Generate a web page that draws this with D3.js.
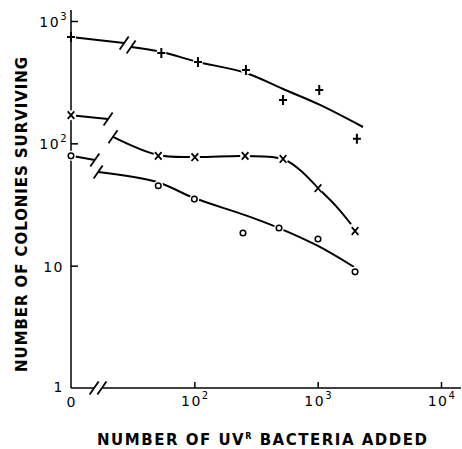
<!DOCTYPE html>
<html>
<head>
<meta charset="utf-8">
<script src="https://cdn.jsdelivr.net/npm/d3@7"></script>
<style>
body { margin: 0; background: #fff; }
text { font-family: "DejaVu Sans", sans-serif; fill: #000; }
</style>
</head>
<body>
<div id="canvas"></div>
<script>
// marker readings (x = 0 is the control, drawn at the axis)
const plusX = [0, 54, 107, 262, 524, 1030, 2080];
const plusY = [740, 548, 463, 398, 226, 273, 109];
const crossX = [0, 51, 101, 258, 524, 1006, 2010];
const crossY = [170, 79, 77, 79, 74.5, 43, 19.2];
const circleX = [0, 51, 100, 248, 486, 1006, 2010];
const circleY = [79, 45, 35, 18.5, 20.3, 16.5, 8.9];

// hand drawn curves, two pieces each side of the break
const plusCurveA = [[0, 740], [27, 660]];
const plusCurveB = [[30.7, 613], [54, 558], [107, 463], [262, 376], [524, 278], [1045, 206], [2330, 136]];
const crossCurveA = [[0, 170], [20, 158]];
const crossCurveB = [[21.9, 113], [50.7, 80.3], [101, 77.3], [258, 78.8], [524, 74.5], [719, 60.5], [1006, 43.2], [1409, 30.7], [1862, 21.9]];
const circleCurveA = [[0, 79], [15.6, 73]];
const circleCurveB = [[16.6, 58.3], [49.8, 48.3], [99.5, 35.7], [258, 25.9], [486, 20.3], [1006, 14.5], [1973, 9.75]];

const xTicks = [100, 1000, 10000];
const yTicks = [10, 100, 1000];
const xBreak = [15.4, 17.8];

const width = 462, height = 449;

const svg = d3.select("#canvas")
    .append("svg")
    .attr("width", width)
    .attr("height", height);

const x = d3.scaleLog().domain([10, 10000]).range([71, 441]);
const y = d3.scaleLog().domain([1, 1000]).range([388, 21]);
const xPos = v => x(v === 0 ? 10 : v);

// axes lines (x axis is broken near zero)
const axes = svg.append("g")
    .attr("stroke", "#000")
    .attr("stroke-width", 1.5)
    .attr("fill", "none");

axes.append("line")
    .attr("x1", x(10)).attr("x2", x(10))
    .attr("y1", y(1)).attr("y2", y(1230));
axes.append("line")
    .attr("x1", x(10)).attr("x2", x(xBreak[0]))
    .attr("y1", y(1)).attr("y2", y(1));
axes.append("line")
    .attr("x1", x(xBreak[1])).attr("x2", x(14500))
    .attr("y1", y(1)).attr("y2", y(1));

function slash(px, py) {
    svg.append("line")
        .attr("x1", px - 4.5).attr("y1", py + 6.5)
        .attr("x2", px + 4.5).attr("y2", py - 6.5)
        .attr("stroke", "#000")
        .attr("stroke-width", 1.8);
}
xBreak.forEach(b => slash(x(b), y(1)));

// ticks point inward
const yAxis = svg.append("g")
    .attr("transform", "translate(" + x(10) + ",0)")
    .call(d3.axisLeft(y).tickValues(yTicks).tickSizeInner(-7).tickSizeOuter(0).tickFormat(""));
const xAxis = svg.append("g")
    .attr("transform", "translate(0," + y(1) + ")")
    .call(d3.axisBottom(x).tickValues(xTicks).tickSizeInner(-6).tickSizeOuter(0).tickFormat(""));
[yAxis, xAxis].forEach(g => {
    g.select(".domain").remove();
    g.selectAll("line").attr("stroke-width", 1.5);
});

// tick labels with superscripts
function powLabel(px, py, anchor, exp) {
    const t = svg.append("text")
        .attr("x", px).attr("y", py)
        .attr("text-anchor", anchor)
        .style("font-size", "14px")
        .style("letter-spacing", "1.5px")
        .text("10");
    if (exp > 1) {
        t.append("tspan")
            .attr("dy", -7)
            .style("font-size", "10px")
            .text(exp);
    }
}
yTicks.forEach(v => {
    const e = Math.round(Math.log10(v));
    powLabel(e > 1 ? 68 : 64, y(v) + 6, "end", e);
});
xTicks.forEach(v => powLabel(x(v) + 1, 406, "middle", Math.round(Math.log10(v))));

svg.append("text")
    .attr("x", 58).attr("y", 392)
    .attr("text-anchor", "middle")
    .style("font-size", "14px")
    .text("1");
svg.append("text")
    .attr("x", 71).attr("y", 407)
    .attr("text-anchor", "middle")
    .style("font-size", "14px")
    .text("0");

// stretch a title to span a given length
function fit(sel, target) {
    const n = sel.text().length;
    const len = sel.node().getComputedTextLength();
    sel.style("letter-spacing", ((target - len) / (n - 1)) + "px");
}

const yTitle = svg.append("text")
    .attr("transform", "translate(27,214) rotate(-90)")
    .attr("text-anchor", "middle")
    .style("font-size", "15px")
    .style("font-weight", "bold")
    .text("NUMBER OF COLONIES SURVIVING");
fit(yTitle, 315);

const xTitle = svg.append("text")
    .attr("x", 97).attr("y", 445)
    .style("font-size", "15px")
    .style("font-weight", "bold");
xTitle.append("tspan").text("NUMBER OF UV");
xTitle.append("tspan").attr("dy", -6).style("font-size", "8px").text("R");
xTitle.append("tspan").attr("dy", 6).text(" BACTERIA ADDED");
fit(xTitle, 330);

// curves
const line = d3.line()
    .x(d => xPos(d[0]))
    .y(d => y(d[1]))
    .curve(d3.curveCatmullRom.alpha(0.5));

[[plusCurveA, plusCurveB], [crossCurveA, crossCurveB], [circleCurveA, circleCurveB]].forEach(([a, b]) => {
    [a, b].forEach(seg => svg.append("path")
        .attr("d", line(seg))
        .attr("fill", "none")
        .attr("stroke", "#000")
        .attr("stroke-width", 2));
    const ea = a[a.length - 1], sb = b[0];
    slash(xPos(ea[0]), y(ea[1]));
    slash(xPos(sb[0]), y(sb[1]));
});

// markers with a small white gap round them
const series = [
    {xs: plusX, ys: plusY, shape: "M-4,0H4M0,-5V5", w: 2},
    {xs: crossX, ys: crossY, shape: "M-3.3,-3.8L3.3,3.8M3.3,-3.8L-3.3,3.8", w: 1.8},
    {xs: circleX, ys: circleY, shape: null, w: 1.5}
];

series.forEach(s => {
    const pts = s.xs.map((v, i) => [v, s.ys[i]]);
    svg.append("g").selectAll("circle")
        .data(pts)
        .enter()
        .append("circle")
        .attr("cx", d => xPos(d[0]))
        .attr("cy", d => y(d[1]))
        .attr("r", 5)
        .attr("fill", "#fff");
    const g = svg.append("g");
    if (s.shape) {
        g.selectAll("path")
            .data(pts)
            .enter()
            .append("path")
            .attr("transform", d => "translate(" + xPos(d[0]) + "," + y(d[1]) + ")")
            .attr("d", s.shape)
            .attr("stroke", "#000")
            .attr("stroke-width", s.w)
            .attr("fill", "none");
    } else {
        g.selectAll("circle")
            .data(pts)
            .enter()
            .append("circle")
            .attr("cx", d => xPos(d[0]))
            .attr("cy", d => y(d[1]))
            .attr("r", 2.8)
            .attr("stroke", "#000")
            .attr("stroke-width", s.w)
            .attr("fill", "#fff");
    }
});
</script>
</body>
</html>
